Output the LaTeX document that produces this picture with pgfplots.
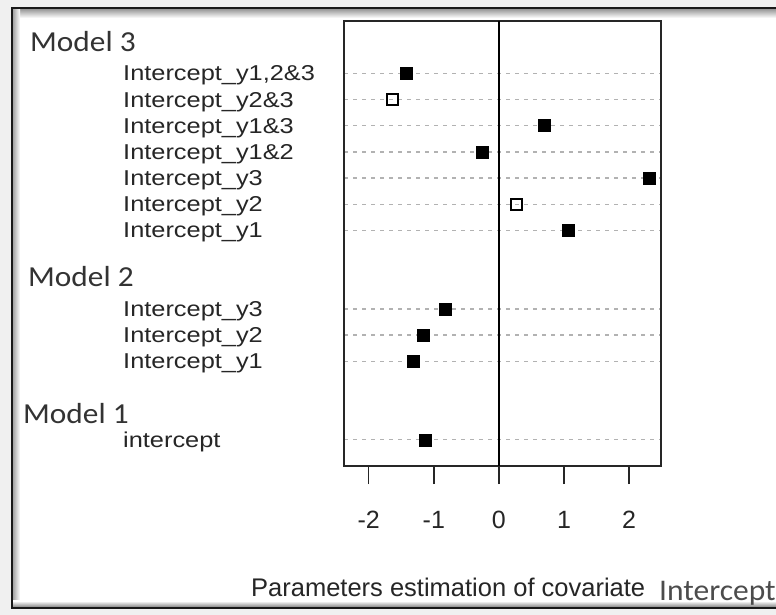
\documentclass[border=0pt]{standalone}
\usepackage{pgfplots}
\pgfplotsset{compat=1.18}
\usepackage{pgfplotstable}
\usepackage{fontspec}
\setmainfont{Liberation Sans}
\newfontfamily\rowfont[FakeStretch=1.18]{Liberation Sans}
\newfontfamily\modfont[FakeStretch=1.08]{Carlito}
\newfontfamily\icfont[FakeStretch=1.05]{Carlito}

% estimates, y = row position
\pgfplotstableread{
y x
14 -1.43
12 0.69
11 -0.26
10 2.31
8 1.06
5 -0.82
4 -1.17
3 -1.32
0 -1.14
}\filled
\pgfplotstableread{
y x
13 -1.64
9 0.27
}\hollow

\begin{document}
\begin{tikzpicture}[x=1pt,y=1pt]
  % page and frame
  \path[use as bounding box] (0,0) rectangle (776,615);
  \fill[black!6] (0,0) rectangle (776,615);
  \fill[white] (12,7) rectangle (800,607);
  \shade[top color=black!45, bottom color=white] (12,597) rectangle (800,607);
  \shade[left color=black!40, right color=white] (12,7) rectangle (20,607);
  \shade[bottom color=black!55, top color=white] (12,7) rectangle (800,14);
  \draw[line width=2pt, black!90] (800,607) -- (11.5,607) -- (11.5,7) -- (800,7);

  \begin{axis}[
      at={(344pt,149pt)},
      anchor=south west,
      scale only axis,
      width=317pt,
      height=445pt,
      xmin=-2.38, xmax=2.49,
      ymin=-1, ymax=16,
      axis line style={line width=1.5pt, black!85},
      xtick={-2,-1,0,1,2},
      xticklabels={-2,-1,0,1,2},
      xtick pos=left,
      tick align=outside,
      major tick length=18pt,
      xtick style={line width=1.5pt, black!85},
      xticklabel style={font=\fontsize{25}{28}\selectfont, text=black!85, yshift=-24pt},
      ytick={0,3,4,5,8,9,10,11,12,13,14},
      yticklabels={intercept, Intercept\_y1, Intercept\_y2, Intercept\_y3,
        Intercept\_y1, Intercept\_y2, Intercept\_y3, Intercept\_y1\&2,
        Intercept\_y1\&3, Intercept\_y2\&3, {Intercept\_y1,2\&3}},
      ytick style={draw=none},
      yticklabel style={font=\rowfont\fontsize{21.5}{24}\selectfont, text=black!85,
        anchor=base west, inner sep=0pt, xshift=-203pt, yshift=-7.5pt},
      ymajorgrids,
      major grid style={black!30, line width=1.3pt, dash pattern=on 4pt off 5pt},
    ]
    \addplot[black, line width=1.5pt] coordinates {(0,-1) (0,16)};
    \addplot[only marks, mark=square*, mark size=6pt, black]
      table[x=x, y=y] {\filled};
    \addplot[only marks, mark=square, mark size=5.5pt, black,
      mark options={fill=white, line width=1.8pt}]
      table[x=x, y=y] {\hollow};
  \end{axis}

  % group headings
  \node[anchor=base west, inner sep=0pt, text=black!80, font=\modfont\fontsize{29}{32}\selectfont]
    at (30,563) {Model 3};
  \node[anchor=base west, inner sep=0pt, text=black!80, font=\modfont\fontsize{29}{32}\selectfont]
    at (28,328) {Model 2};
  \node[anchor=base west, inner sep=0pt, text=black!80, font=\modfont\fontsize{29}{32}\selectfont]
    at (23,191) {Model 1};

  % x label
  \node[anchor=base west, inner sep=0pt, text=black!85, font=\fontsize{25.5}{28}\selectfont]
    at (251,18) {Parameters estimation of covariate};
  \node[anchor=base west, inner sep=0pt, text=black!70, font=\icfont\fontsize{30}{32}\selectfont]
    at (659,14) {Intercept};
\end{tikzpicture}
\end{document}
